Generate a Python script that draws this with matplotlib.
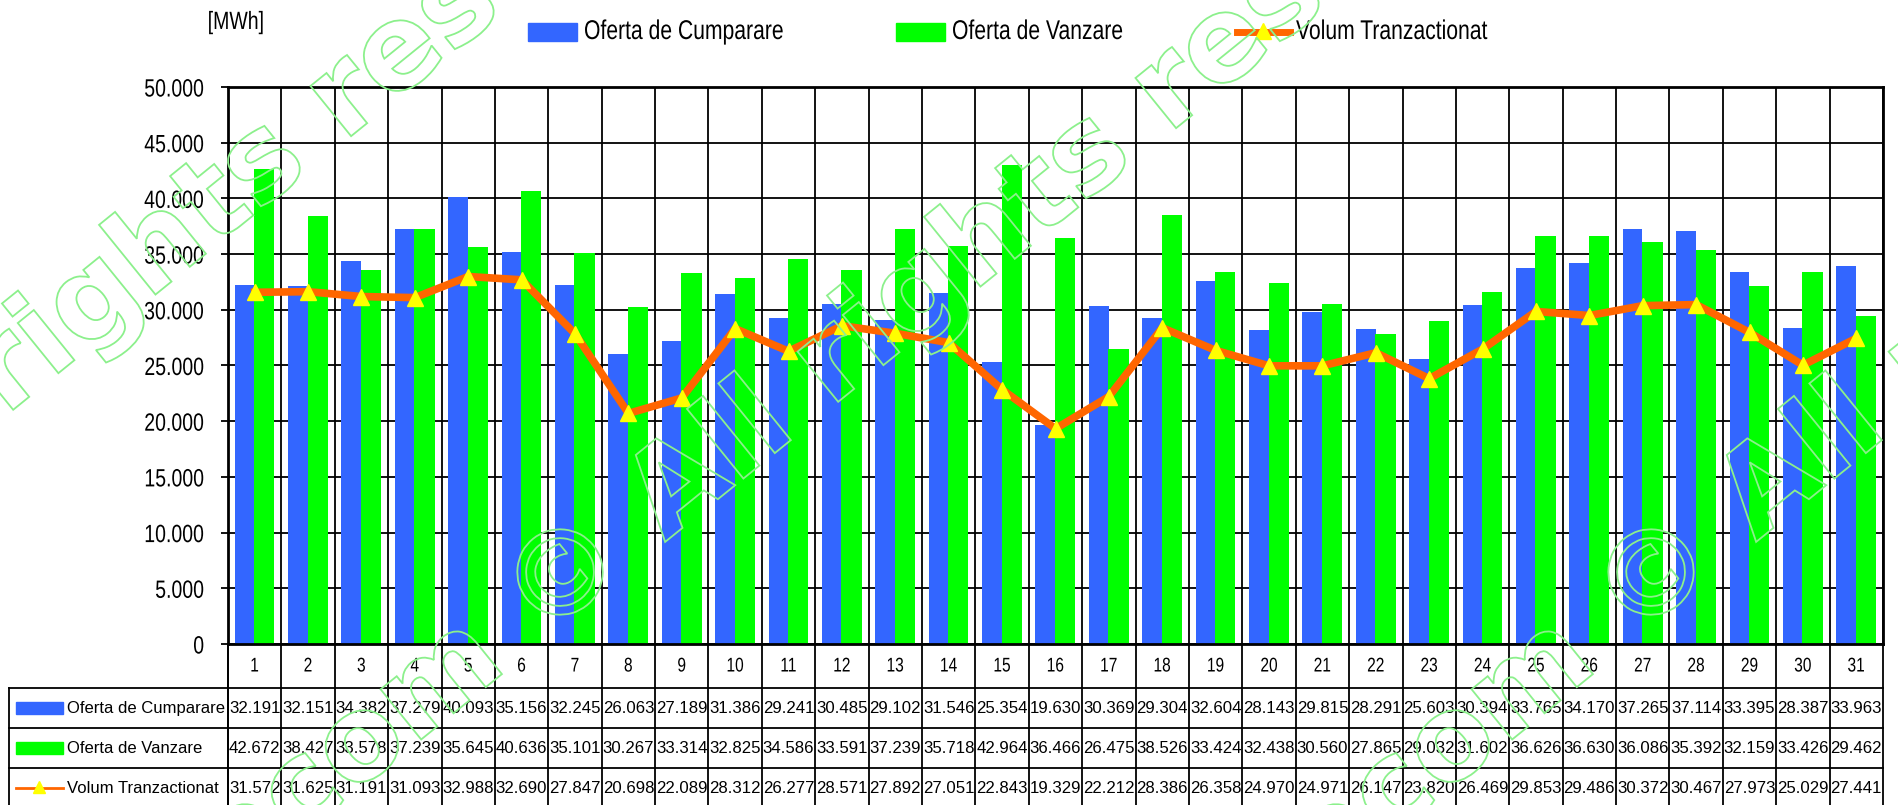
import numpy as np
import matplotlib
matplotlib.use('Agg')
import matplotlib.pyplot as plt
from matplotlib.patches import Rectangle, PathPatch
from matplotlib.lines import Line2D
from matplotlib.textpath import TextPath
from matplotlib.font_manager import FontProperties
from matplotlib.transforms import Affine2D, blended_transform_factory
from matplotlib.patheffects import AbstractPathEffect

# date din tabel (MWh)
zile = list(range(1, 32))
oferta_cumparare = [32191, 32151, 34382, 37279, 40093, 35156, 32245, 26063, 27189, 31386,
                    29241, 30485, 29102, 31546, 25354, 19630, 30369, 29304, 32604, 28143,
                    29815, 28291, 25603, 30394, 33765, 34170, 37265, 37114, 33395, 28387, 33963]
oferta_vanzare = [42672, 38427, 33578, 37239, 35645, 40636, 35101, 30267, 33314, 32825,
                  34586, 33591, 37239, 35718, 42964, 36466, 26475, 38526, 33424, 32438,
                  30560, 27865, 29032, 31602, 36626, 36630, 36086, 35392, 32159, 33426, 29462]
volum_tranzactionat = [31572, 31625, 31191, 31093, 32988, 32690, 27847, 20698, 22089, 28312,
                       26277, 28571, 27892, 27051, 22843, 19329, 22212, 28386, 26358, 24970,
                       24971, 26147, 23820, 26469, 29853, 29486, 30372, 30467, 27973, 25029, 27441]
serii = ['Oferta de Cumparare', 'Oferta de Vanzare', 'Volum Tranzactionat']

BLUE = '#3366FF'
GREEN = '#00FF00'
ORANGE = '#FF6600'
YELLOW = '#FFFF00'

plt.rcParams['font.family'] = ['Liberation Sans', 'DejaVu Sans']

SX = 0.78  # fontul original e Arial Narrow -> ingustam textul
ALIGN_K = {'left': 0.0, 'center': 0.5, 'right': 1.0}


class Condense(AbstractPathEffect):
    def __init__(self, sx=SX, align='left'):
        super().__init__()
        self.sx = sx
        self.k = ALIGN_K[align]

    def draw_path(self, renderer, gc, tpath, affine, rgbFace=None):
        x1 = tpath.get_extents().x1
        shift = (1 - self.sx) * x1 * self.k
        new = Affine2D().scale(self.sx, 1).translate(shift, 0) + affine
        renderer.draw_path(gc, tpath, new, rgbFace)


W, H = 1899, 805
fig = plt.figure(figsize=(W / 100, H / 100), dpi=100)
fig.patch.set_facecolor('white')

# zona grafic (pixeli)
L, R, T, B = 228, 1883, 87, 644
ax = fig.add_axes([L / W, 1 - B / H, (R - L) / W, (B - T) / H])

x = np.arange(len(zile))
ax.bar(x - 0.19, oferta_cumparare, width=0.37, color=BLUE, zorder=2)
ax.bar(x + 0.18, oferta_vanzare, width=0.38, color=GREEN, zorder=2)
ax.plot(x, volum_tranzactionat, color=ORANGE, lw=5.5, marker='^', ms=11,
        mfc=YELLOW, mec=YELLOW, zorder=3)

ax.set_xlim(-0.5, len(zile) - 0.5)
ax.set_ylim(0, 50000)
yt = np.arange(0, 50001, 5000)
ax.set_yticks(yt)
ax.set_yticklabels([f'{int(v):,}'.replace(',', '.') for v in yt], fontsize=18)
for lbl in ax.get_yticklabels():
    lbl.set_path_effects([Condense(SX, 'right')])
ax.set_xticks(np.arange(-0.5, len(zile)), minor=True)
ax.set_xticks([])
ax.tick_params(axis='y', length=5, width=1.3, direction='out', pad=12)
ax.tick_params(axis='x', which='both', length=0)
ax.grid(axis='y', color='black', lw=1.3, zorder=0)
ax.grid(axis='x', which='minor', color='black', lw=1.3, zorder=0)
ax.set_axisbelow(True)
for s in ax.spines.values():
    s.set_linewidth(2)
    s.set_color('black')

# strat de suprapunere in pixeli pentru tabel si legenda
ov = fig.add_axes([0, 0, 1, 1])
ov.set_xlim(0, W)
ov.set_ylim(H, 0)
ov.axis('off')
tr = blended_transform_factory(ax.transData, ov.transData)

# legenda de sus
ov.text(236, 22, '[MWh]', fontsize=18, ha='center', va='center',
        path_effects=[Condense(SX, 'center')])
ov.add_patch(Rectangle((528, 23), 49, 18, color=BLUE))
ov.text(584, 32, serii[0], fontsize=19.5, va='center', path_effects=[Condense(SX)])
ov.add_patch(Rectangle((896, 23), 49, 18, color=GREEN))
ov.text(952, 32, serii[1], fontsize=19.5, va='center', path_effects=[Condense(SX)])
ov.add_line(Line2D([1237, 1290], [32, 32], color=ORANGE, lw=5))
ov.plot([1263], [31], marker='^', ms=11, color=YELLOW)
ov.text(1296, 32, serii[2], fontsize=19.5, va='center', path_effects=[Condense(SX)])

# tabel de date
rows_y = [688, 728, 768, 808]
cat_y = (B + rows_y[0]) / 2
for i, z in enumerate(zile):
    ov.text(x[i], cat_y, str(z), transform=tr, fontsize=14.3, ha='center',
            va='center', path_effects=[Condense(SX, 'center')])
for k in range(len(zile) + 1):
    ov.plot([k - 0.5, k - 0.5], [B, H], transform=tr, color='black', lw=1.3)
for yy in rows_y[:3]:
    ov.plot([9, R], [yy, yy], color='black', lw=1.3)
ov.plot([9, 9], [rows_y[0], H], color='black', lw=1.3)
ov.plot([L, L], [B, H], color='black', lw=1.3)

valori = [oferta_cumparare, oferta_vanzare, volum_tranzactionat]
for r, vals in enumerate(valori):
    yc = (rows_y[r] + rows_y[r + 1]) / 2
    for i, v in enumerate(vals):
        ov.text(x[i], yc, f'{v:,}'.replace(',', '.'), transform=tr,
                fontsize=12.1, ha='center', va='center')
    ov.text(67, yc, serii[r], fontsize=12, va='center')
y0 = (rows_y[0] + rows_y[1]) / 2
ov.add_patch(Rectangle((16, y0 - 6), 47, 12, color=BLUE))
y1 = (rows_y[1] + rows_y[2]) / 2
ov.add_patch(Rectangle((16, y1 - 6), 47, 12, color=GREEN))
y2 = (rows_y[2] + rows_y[3]) / 2
ov.add_line(Line2D([16, 63], [y2, y2], color=ORANGE, lw=2))
ov.plot([39.5], [y2 - 1], marker='^', ms=9, color=YELLOW)

# filigran
fp = FontProperties(family='DejaVu Sans', weight='bold')
wm = 'opcom \u00a9 All rights reserved'
size = 118
path = TextPath((0, 0), wm, size=size, prop=fp)
e_pre = TextPath((0, 0), 'opcom \u00a9', size=size, prop=fp).get_extents()
e_c = TextPath((0, 0), '\u00a9', size=size, prop=fp).get_extents()
cx = e_pre.x1 - e_c.width / 2
cy = (e_c.y0 + e_c.y1) / 2
for px, py in [(-265, 580), (560, 572), (1651, 572)]:
    t = (Affine2D().translate(-cx, -cy).rotate_deg(39).translate(px, H - py)
         .scale(1 / 100) + fig.dpi_scale_trans)
    fig.add_artist(PathPatch(path, transform=t, facecolor='none',
                             edgecolor='#8CF08C', lw=1.3, zorder=10))

fig.savefig('out.png', dpi=100)
